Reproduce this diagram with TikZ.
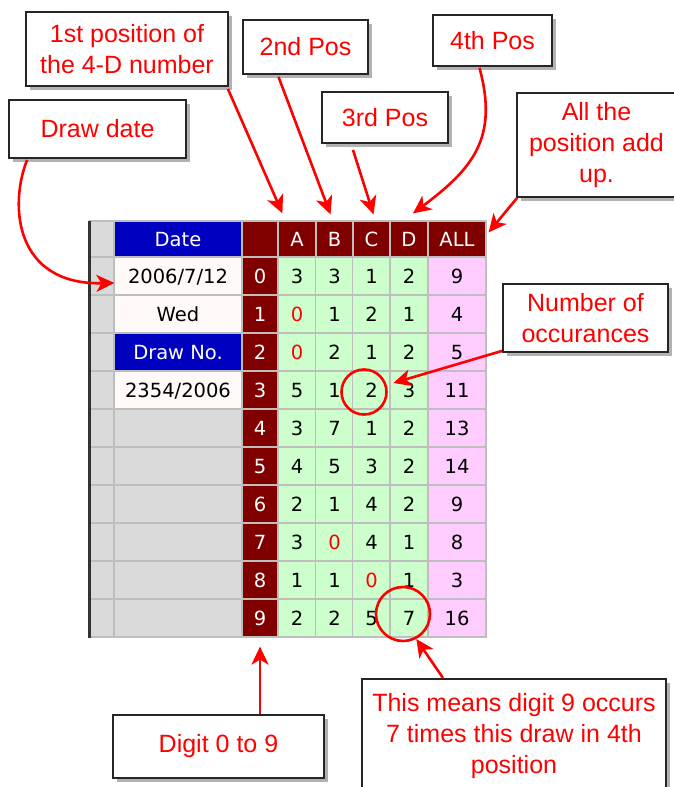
\documentclass[tikz,border=0pt]{standalone}
\usepackage{fontspec}
\setmainfont{Liberation Sans}
\newfontfamily\gridfont{DejaVu Sans}
\usetikzlibrary{arrows.meta,calc,shadows}

\definecolor{hdrblue}{RGB}{0,0,192}
\definecolor{hdrred}{RGB}{128,0,0}
\definecolor{cntgreen}{RGB}{204,255,204}
\definecolor{sumpink}{RGB}{255,204,255}
\definecolor{infowhite}{RGB}{255,250,248}
\definecolor{sidegrey}{RGB}{218,218,218}
\definecolor{gridline}{RGB}{190,190,190}

\newcommand{\zr}{\textcolor{red}{0}}

\tikzset{
  cell/.style={draw=gridline, line width=1.2pt, inner sep=0pt, minimum height=38pt,
    text height=14pt, text depth=0pt, font=\gridfont\fontsize{19.5}{21}\selectfont},
  side/.style={cell, fill=sidegrey, minimum width=24pt},
  info/.style={cell, fill=infowhite, minimum width=128pt},
  digit/.style={cell, fill=hdrred, text=white, minimum width=36pt},
  count/.style={cell, fill=cntgreen, minimum width=38pt},
  total/.style={cell, fill=sumpink, minimum width=58pt},
  head/.style={minimum height=36pt},
  callout/.style={draw=black!85, line width=1.8pt, fill=white, text=red, align=center,
    inner sep=0pt, font=\fontsize{25}{31}\selectfont,
    drop shadow={shadow xshift=4pt, shadow yshift=-4pt, opacity=0.3, fill=black}},
  pointer/.style={draw=red, line width=2.6pt, -{Stealth[length=18pt,width=17pt,inset=5pt]}},
  ring/.style={circle, draw=red, line width=2.6pt, inner sep=0pt}
}

\begin{document}
\begin{tikzpicture}[x=1pt, y=-1pt]

  \fill[white] (0,0) rectangle (674,787);
  \useasboundingbox (0,0) rectangle (674,787);

  % Header row
  \node[side, head] (hside) at (102,239) {};
  \node[info, head, fill=hdrblue, text=white] (hdate) at (178,239) {Date};
  \node[digit, head] (hdig) at (260,239) {};
  \node[digit, head, minimum width=38pt] (hA) at (297,239) {A};
  \node[digit, head, minimum width=37pt] (hB) at (334.5,239) {B};
  \node[digit, head, minimum width=37pt] (hC) at (371.5,239) {C};
  \node[digit, head, minimum width=38pt] (hD) at (409,239) {D};
  \node[digit, head, minimum width=58pt] (hAll) at (457,239) {ALL};

  % Draw info
  \node[info] (info0) at (178,276) {2006/7/12};
  \node[info] (info1) at (178,314) {Wed};
  \node[info, fill=hdrblue, text=white] (info2) at (178,352) {Draw No.};
  \node[info] (info3) at (178,390) {2354/2006};
  \foreach \r in {4,...,9}
    \node[info, fill=sidegrey] (info\r) at (178,{276+38*\r}) {};

  % Counts per digit
  \foreach \r/\ca/\cb/\cc/\cd/\tot in {0/3/3/1/2/9, 1/\zr/1/2/1/4, 2/\zr/2/1/2/5,
      3/5/1/2/3/11, 4/3/7/1/2/13, 5/4/5/3/2/14, 6/2/1/4/2/9, 7/3/\zr/4/1/8,
      8/1/1/\zr/1/3, 9/2/2/5/7/16}
  {
    \node[side] (side\r) at (102,{276+38*\r}) {};
    \node[digit] (dig\r) at (260,{276+38*\r}) {\r};
    \node[count] (A\r) at (297,{276+38*\r}) {\ca};
    \node[count] (B\r) at (334.5,{276+38*\r}) {\cb};
    \node[count] (C\r) at (371.5,{276+38*\r}) {\cc};
    \node[count] (D\r) at (409,{276+38*\r}) {\cd};
    \node[total] (all\r) at (457,{276+38*\r}) {\tot};
  }

  \draw[line width=3pt, black!80] (89,221) -- (89,638);

  % Rings
  \node[ring, minimum size=45pt] (ring1) at (364,392) {};
  \node[ring, minimum size=54pt] (ring2) at (403,614) {};

  % Callouts
  \node[callout, minimum width=202pt, minimum height=74pt] (pos1) at (127,49)
    {1st position of\\the 4-D number};
  \node[callout, minimum width=177pt, minimum height=58pt] (datebox) at (97.5,129) {Draw date};
  \node[callout, minimum width=125pt, minimum height=54pt] (pos2) at (305.5,47) {2nd Pos};
  \node[callout, minimum width=126pt, minimum height=51pt] (pos3) at (385,117.5) {3rd Pos};
  \node[callout, minimum width=119pt, minimum height=51pt] (pos4) at (492.5,40.5) {4th Pos};
  \node[callout, minimum width=159pt, minimum height=104pt] (allup) at (596.5,145)
    {All the\\position add\\up.};
  \node[callout, minimum width=165pt, minimum height=68pt] (occur) at (585.5,318)
    {Number of\\occurances};
  \node[callout, minimum width=211pt, minimum height=63pt] (digbox) at (218.5,746.5) {Digit 0 to 9};
  \node[callout, minimum width=304pt, inner ysep=14pt, anchor=north] (means) at (514,678)
    {This means digit 9 occurs\\7 times this draw in 4th\\position};

  % Pointers
  \draw[pointer] ($(pos1.south east)+(-1,2)$) -- ($(hA.north west)+(5,-7)$);
  \draw[pointer] ($(pos2.south)+(-27,2)$) -- ($(hB.north)+(-4,-6)$);
  \draw[pointer] ($(pos3.south)+(-32,6)$) -- ($(hC.north)+(2,-6)$);
  \draw[pointer] ($(pos4.south)+(-13,1)$) .. controls +(19,70) and +(60,-45) .. ($(hD.north)+(4,-7)$);
  \draw[pointer] ($(allup.south west)+(1,0)$) -- ($(hAll.north east)+(2,12)$);
  \draw[pointer] ($(datebox.south west)+(19,1)$) .. controls +(-18,45) and +(-100,2) .. ($(info0.west)+(1,7)$);
  \draw[pointer] ($(occur.south west)+(0,-2)$) -- ($(D3.west)+(4,-7)$);
  \draw[pointer] ($(digbox.north)+(41.5,0)$) -- ($(dig9.south)+(0,9)$);
  \draw[pointer] ($(means.north)+(-71,0)$) -- (ring2.-62);

\end{tikzpicture}
\end{document}
